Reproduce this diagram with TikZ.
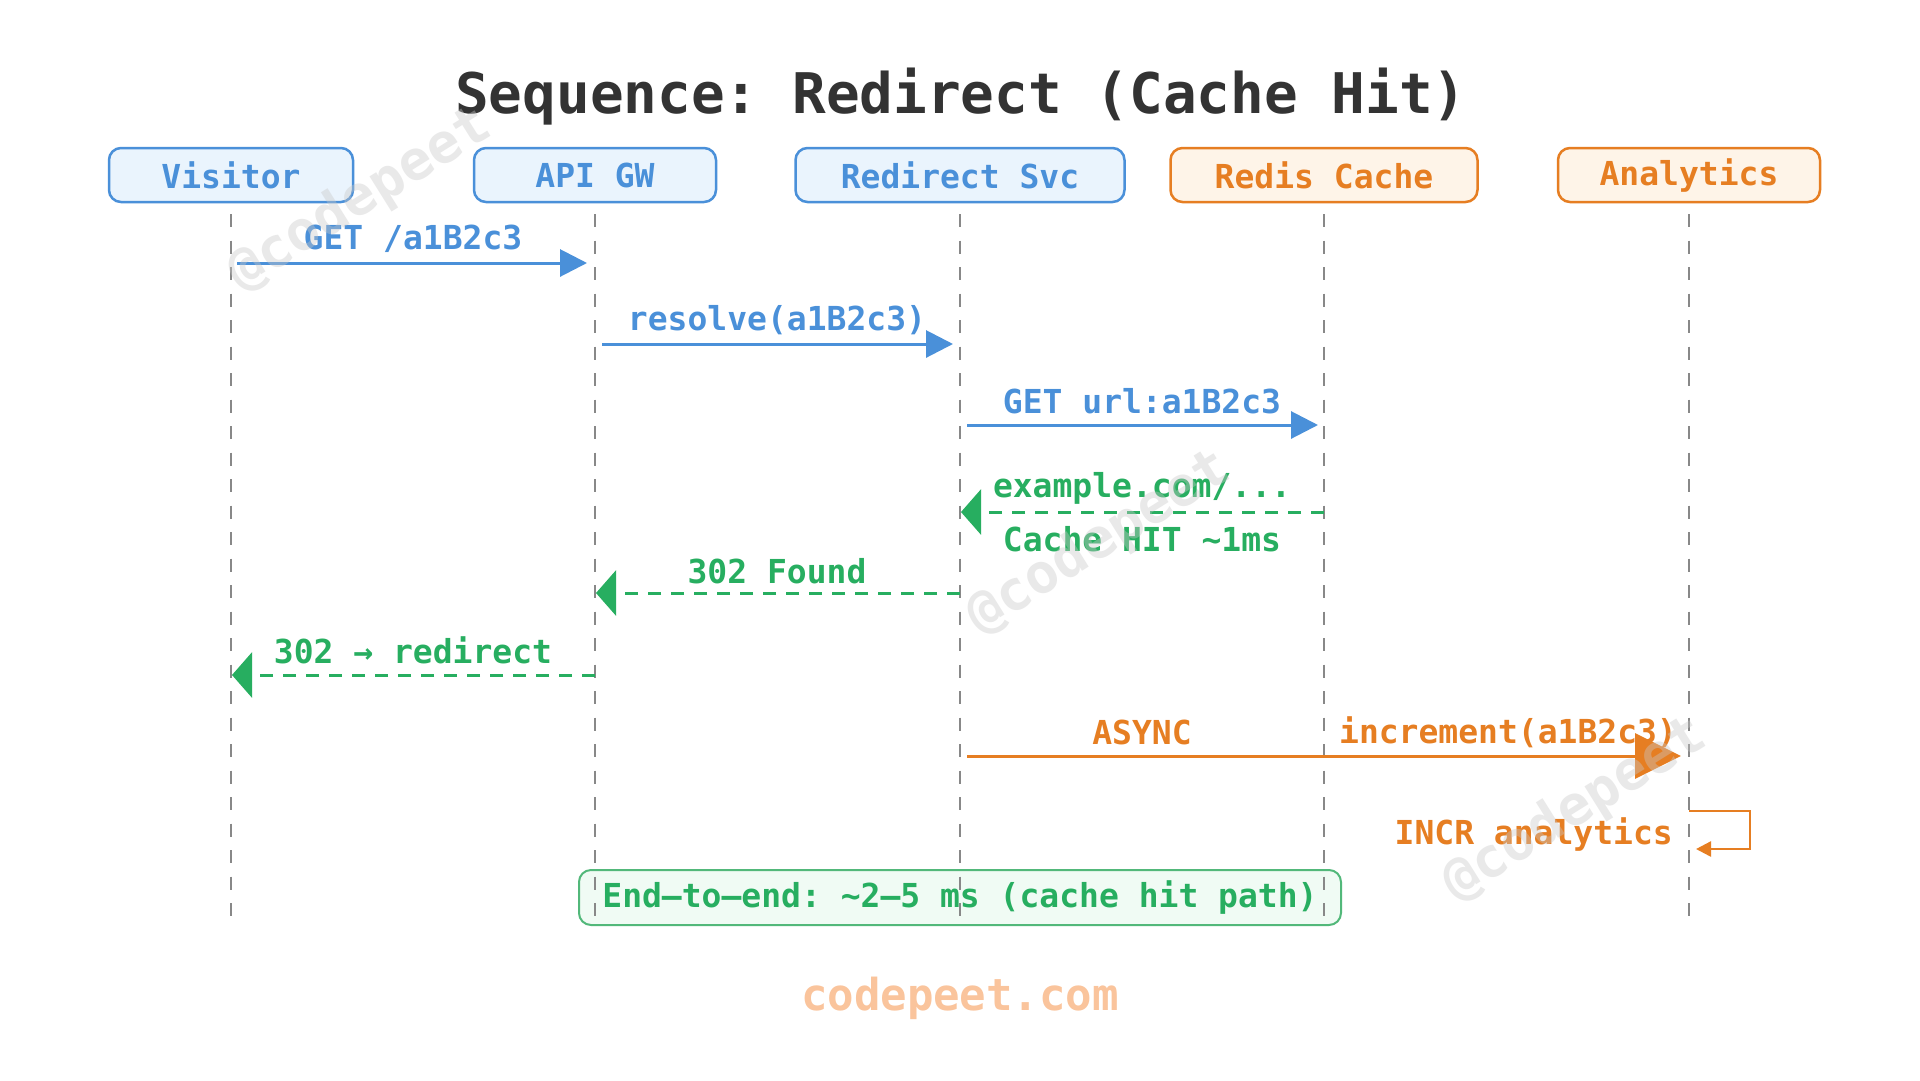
\documentclass[tikz,border=0pt]{standalone}
\usepackage{fontspec}
\setmonofont{DejaVu Sans Mono}
\usetikzlibrary{arrows.meta}
\definecolor{cblue}{HTML}{4A90D9}
\definecolor{cbluefill}{HTML}{EAF4FD}
\definecolor{corange}{HTML}{E67E22}
\definecolor{corangefill}{HTML}{FEF4E8}
\definecolor{cgreen}{HTML}{27AE60}
\definecolor{cnotefill}{HTML}{F0FBF4}
\definecolor{cnoteline}{HTML}{52B87A}
\definecolor{ctitle}{HTML}{333333}
\definecolor{cline}{HTML}{888888}
\definecolor{cfoot}{HTML}{FAC49C}
\definecolor{cwm}{HTML}{C8C8C8}
\begin{document}
\begin{tikzpicture}[x=1pt,y=-1pt,
  lbl/.style={font=\ttfamily\bfseries\fontsize{33}{36}\selectfont, inner sep=0pt, anchor=base},
  actor/.style={line width=2.5pt, rounded corners=12pt, minimum height=54pt, inner sep=0pt,
    font=\ttfamily\bfseries\fontsize{33}{36}\selectfont},
  blueactor/.style={actor, draw=cblue, fill=cbluefill, text=cblue},
  orangeactor/.style={actor, draw=corange, fill=corangefill, text=corange},
  lifeline/.style={draw=cline, line width=2pt, dash pattern=on 13pt off 13.5pt},
  bmsg/.style={draw=cblue, line width=3pt, -{Triangle[length=27pt,width=27pt]}},
  gmsg/.style={draw=cgreen, line width=3pt, dash pattern=on 13pt off 10pt, -{Triangle[length=20pt,width=45pt]}},
  omsg/.style={draw=corange, line width=3pt, -{Triangle[length=46pt,width=45pt]}},
  selfmsg/.style={draw=corange, line width=2.5pt, -{Triangle[length=15pt,width=15pt]}},
  wm/.style={font=\ttfamily\bfseries\fontsize{55}{60}\selectfont, text=cwm, opacity=0.4, inner sep=0pt, rotate=32}
]
\useasboundingbox (0,0) rectangle (1920,1080);
\fill[white] (0,0) rectangle (1920,1080);

% title
\node[font=\ttfamily\bfseries\fontsize{56}{60}\selectfont, text=ctitle, inner sep=0pt, anchor=base] (title) at (961,113) {Sequence: Redirect (Cache Hit)};

% participants
\node[blueactor, minimum width=244pt] (visitor) at (231,175) {Visitor};
\node[blueactor, minimum width=242pt] (api) at (595,175) {API GW};
\node[blueactor, minimum width=329pt] (svc) at (960,175) {Redirect Svc};
\node[orangeactor, minimum width=307pt] (redis) at (1324,175) {Redis Cache};
\node[orangeactor, minimum width=262pt] (analytics) at (1689,175) {Analytics};

% note box (background)
\node[draw=cnoteline, fill=cnotefill, line width=2pt, rounded corners=12pt, minimum width=762pt, minimum height=55pt, inner sep=0pt] (notebox) at (960,897.5) {};

% lifelines
\coordinate (top) at (0,214);
\coordinate (bot) at (0,925);
\foreach \p in {visitor,api,svc,redis,analytics}{
  \draw[lifeline] (\p.south |- top) -- (\p.south |- bot);
}

% message rows
\coordinate (y1) at (0,263);
\coordinate (y2) at (0,344);
\coordinate (y3) at (0,425);
\coordinate (y4) at (0,512);
\coordinate (y5) at (0,593);
\coordinate (y6) at (0,675);
\coordinate (y7) at (0,756);
\coordinate (y8a) at (0,811);
\coordinate (y8b) at (0,849);
\coordinate (xr) at (1750,0);

\draw[bmsg, shorten <=6pt, shorten >=8pt] (visitor.south |- y1) -- (api.south |- y1);
\node[lbl, text=cblue] (l1) at (413,249) {GET /a1B2c3};

\draw[bmsg, shorten <=7pt, shorten >=7pt] (api.south |- y2) -- (svc.south |- y2);
\node[lbl, text=cblue] (l2) at (777,330) {resolve(a1B2c3)};

\draw[bmsg, shorten <=7pt, shorten >=6pt] (svc.south |- y3) -- (redis.south |- y3);
\node[lbl, text=cblue] (l3) at (1142,413) {GET url:a1B2c3};

\draw[gmsg, shorten >=1pt] (redis.south |- y4) -- (svc.south |- y4);
\node[lbl, text=cgreen] (l4a) at (1142,497) {example.com/...};
\node[lbl, text=cgreen] (l4b) at (1142,551) {Cache HIT \textasciitilde1ms};

\draw[gmsg, shorten >=1pt] (svc.south |- y5) -- (api.south |- y5);
\node[lbl, text=cgreen] (l5) at (777,583) {302 Found};

\draw[gmsg, shorten >=1pt] (api.south |- y6) -- (visitor.south |- y6);
\node[lbl, text=cgreen] (l6) at (413,663) {302 → redirect};

\draw[omsg, shorten <=7pt, shorten >=8pt] (svc.south |- y7) -- (analytics.south |- y7);
\node[lbl, text=corange] (l7a) at (1142,744) {ASYNC};
\node[lbl, text=corange] (l7b) at (1508,743) {increment(a1B2c3)};

\draw[selfmsg, shorten >=7pt] (analytics.south |- y8a) -- (xr |- y8a) -- (xr |- y8b) -- (analytics.south |- y8b);
\node[lbl, text=corange, anchor=base east] (l8) at (1673,844) {INCR analytics};

% note text
\node[lbl, text=cgreen] (notetext) at (960,907) {End–to–end: \textasciitilde2–5 ms (cache hit path)};

% footer
\node[font=\ttfamily\bfseries\fontsize{44}{48}\selectfont, text=cfoot, inner sep=0pt, anchor=base] (footer) at (960,1010) {codepeet.com};

% watermarks
\node[wm] (wm1) at (360,200) {@codepeet};
\node[wm] (wm2) at (1099,543) {@codepeet};
\node[wm] (wm3) at (1575,810) {@codepeet};
\end{tikzpicture}
\end{document}
